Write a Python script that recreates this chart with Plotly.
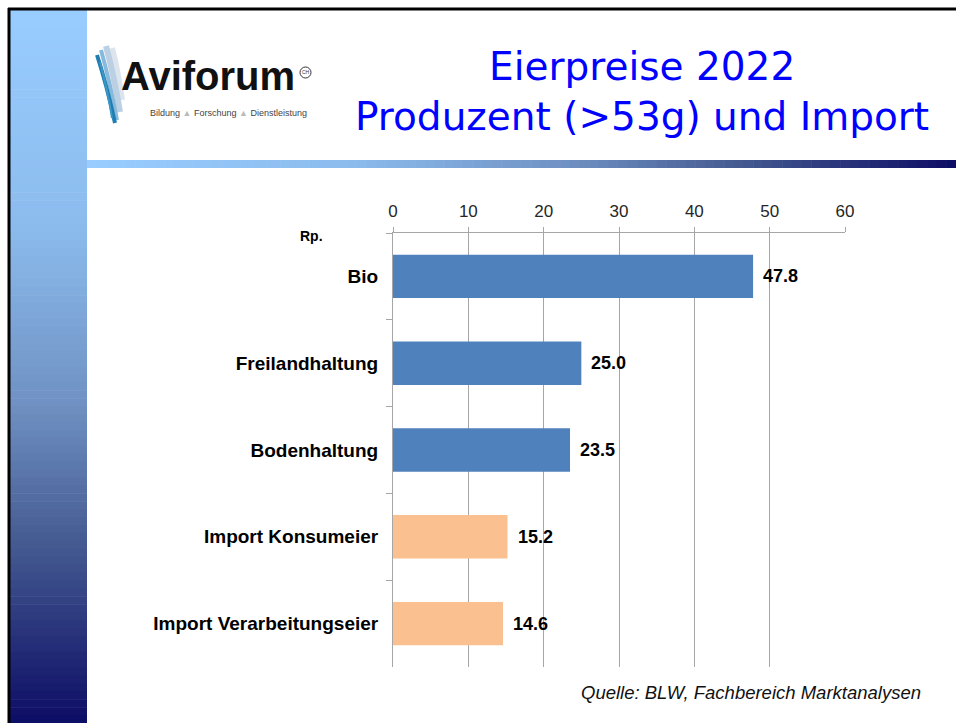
import plotly.graph_objects as go

# ---- data ----
categories = ["Bio", "Freilandhaltung", "Bodenhaltung", "Import Konsumeier", "Import Verarbeitungseier"]
values = [47.8, 25.0, 23.5, 15.2, 14.6]
groups = ["Produzent", "Produzent", "Produzent", "Import", "Import"]
x_ticks = [0, 10, 20, 30, 40, 50, 60]
title_lines = ["Eierpreise 2022", "Produzent (>53g) und Import"]
source_text = "Quelle: BLW, Fachbereich Marktanalysen"
unit_label = "Rp."

W, H = 956, 723
group_colors = {"Produzent": "#4F81BD", "Import": "#FAC090"}


def px(x):
    return x / W


def py(y):
    return 1 - y / H


def lerp_stops(t, stops):
    for i in range(len(stops) - 1):
        t0, c0 = stops[i]
        t1, c1 = stops[i + 1]
        if t0 <= t <= t1:
            f = (t - t0) / (t1 - t0) if t1 > t0 else 0
            c = [round(c0[k] + (c1[k] - c0[k]) * f) for k in range(3)]
            return "rgb(%d,%d,%d)" % tuple(c)
    c = stops[-1][1]
    return "rgb(%d,%d,%d)" % tuple(c)


grad = [
    (0.0, (153, 204, 255)),
    (0.3, (140, 188, 238)),
    (0.55, (112, 145, 195)),
    (0.75, (68, 90, 145)),
    (1.0, (12, 12, 100)),
]

shapes = []
# left gradient strip
N = 90
y0s, y1s = 10, 723
for i in range(N):
    a = y0s + (y1s - y0s) * i / N
    b = y0s + (y1s - y0s) * (i + 1) / N + 0.6
    shapes.append(dict(type="rect", xref="paper", yref="paper",
                       x0=px(10), x1=px(87), y0=py(b), y1=py(a),
                       fillcolor=lerp_stops((i + 0.5) / N, grad), line=dict(width=0), layer="below"))
# horizontal gradient bar
x0s, x1s = 87, 956
for i in range(N):
    a = x0s + (x1s - x0s) * i / N
    b = x0s + (x1s - x0s) * (i + 1) / N + 0.6
    shapes.append(dict(type="rect", xref="paper", yref="paper",
                       x0=px(a), x1=px(b), y0=py(168), y1=py(160),
                       fillcolor=lerp_stops((i + 0.5) / N, grad), line=dict(width=0), layer="below"))
# black frame
shapes.append(dict(type="line", xref="paper", yref="paper", x0=px(8), x1=1, y0=py(9), y1=py(9),
                   line=dict(color="black", width=3)))
shapes.append(dict(type="line", xref="paper", yref="paper", x0=px(9), x1=px(9), y0=py(8), y1=0,
                   line=dict(color="black", width=3)))

# logo feathers
feathers = [
    ("M 112 48 Q 118 72 122 100", "#DCE4EE", 6),
    ("M 106 46 Q 114 76 120 112", "#BCD0E4", 6),
    ("M 101 50 Q 110 82 117 120", "#86B9DB", 4),
    ("M 97 55 Q 107 86 115 123", "#1F7DB3", 4),
    ("M 100 62 Q 108 92 112 118", "#3C97C6", 2),
]
for d, col, w in feathers:
    toks = d.split()
    out = []
    i = 0
    while i < len(toks):
        t = toks[i]
        if t in ("M", "Q", "L"):
            out.append(t)
            i += 1
        else:
            xv = float(toks[i]); yv = float(toks[i + 1])
            out.append("%f,%f" % (px(xv), py(yv)))
            i += 2
    shapes.append(dict(type="path", xref="paper", yref="paper", path=" ".join(out),
                       line=dict(color=col, width=w)))
# CH circle
shapes.append(dict(type="circle", xref="paper", yref="paper",
                   x0=px(300), x1=px(311), y0=py(78), y1=py(67),
                   line=dict(color="#333", width=1)))

fig = go.Figure()
fig.add_trace(go.Bar(
    x=values, y=categories, orientation="h",
    marker=dict(color=[group_colors[g] for g in groups], line=dict(width=0)),
    width=0.5, showlegend=False, hoverinfo="x+y",
))

annotations = []
for c, v in zip(categories, values):
    annotations.append(dict(x=v, y=c, xref="x", yref="y", text="%.1f" % v, showarrow=False,
                            xanchor="left", xshift=8,
                            font=dict(family="Liberation Sans", size=18, color="black", weight="bold")))

title_font = dict(family="DejaVu Sans", size=39, color="#0000FF", weight=400)
annotations += [
    dict(x=px(642), y=py(66), xref="paper", yref="paper", text=title_lines[0], showarrow=False,
         xanchor="center", yanchor="middle", font=title_font),
    dict(x=px(642), y=py(117), xref="paper", yref="paper", text=title_lines[1], showarrow=False,
         xanchor="center", yanchor="middle", font=title_font),
    dict(x=px(923), y=py(692), xref="paper", yref="paper", text="<i>" + source_text + "</i>",
         showarrow=False, xanchor="right", yanchor="middle",
         font=dict(family="Liberation Sans", size=18.5, color="#111")),
    dict(x=px(325), y=py(236), xref="paper", yref="paper", text=unit_label, showarrow=False,
         xanchor="right", yanchor="middle",
         font=dict(family="Liberation Sans", size=14, color="black", weight="bold")),
    dict(x=px(119), y=py(76), xref="paper", yref="paper", text="Aviforum", showarrow=False,
         xanchor="left", yanchor="middle",
         font=dict(family="Liberation Sans", size=40, color="#111", weight="bold")),
    dict(x=px(148), y=py(113), xref="paper", yref="paper",
         text="Bildung <span style='color:#bbb'>▲</span> Forschung <span style='color:#bbb'>▲</span> Dienstleistung",
         showarrow=False, xanchor="left", yanchor="middle",
         font=dict(family="Liberation Sans", size=9, color="#444")),
    dict(x=px(305.5), y=py(72.5), xref="paper", yref="paper", text="CH", showarrow=False,
         xanchor="center", yanchor="middle",
         font=dict(family="Liberation Sans", size=5, color="#333")),
]

fig.update_layout(
    width=W, height=H,
    margin=dict(l=0, r=0, t=0, b=0),
    paper_bgcolor="white", plot_bgcolor="white",
    shapes=shapes, annotations=annotations,
    bargap=0.5,
    xaxis=dict(
        domain=[px(393), px(845)], range=[0, 60], side="top",
        tickvals=x_ticks, ticktext=[str(t) for t in x_ticks],
        showgrid=True, gridcolor="#A6A6A6", gridwidth=1,
        showline=True, linecolor="#A6A6A6", linewidth=1,
        ticks="outside", ticklen=5, tickcolor="#A6A6A6", ticklabelstandoff=3,
        tickfont=dict(family="Liberation Sans", size=17, color="#262626"),
        zeroline=False, automargin=False, fixedrange=True,
    ),
    yaxis=dict(
        domain=[py(667), py(233)],
        categoryorder="array", categoryarray=categories, autorange="reversed",
        showline=True, linecolor="#A6A6A6", linewidth=1,
        ticks="outside", ticklen=6, tickcolor="#A6A6A6", tickson="boundaries",
        ticklabelstandoff=10,
        tickfont=dict(family="Liberation Sans", size=19, color="black", weight="bold"),
        showgrid=False, zeroline=False, automargin=False, fixedrange=True,
    ),
)

fig.write_html("out.html", config={"displayModeBar": False},
               post_script="document.body.style.margin='0';document.body.style.overflow='hidden';")
